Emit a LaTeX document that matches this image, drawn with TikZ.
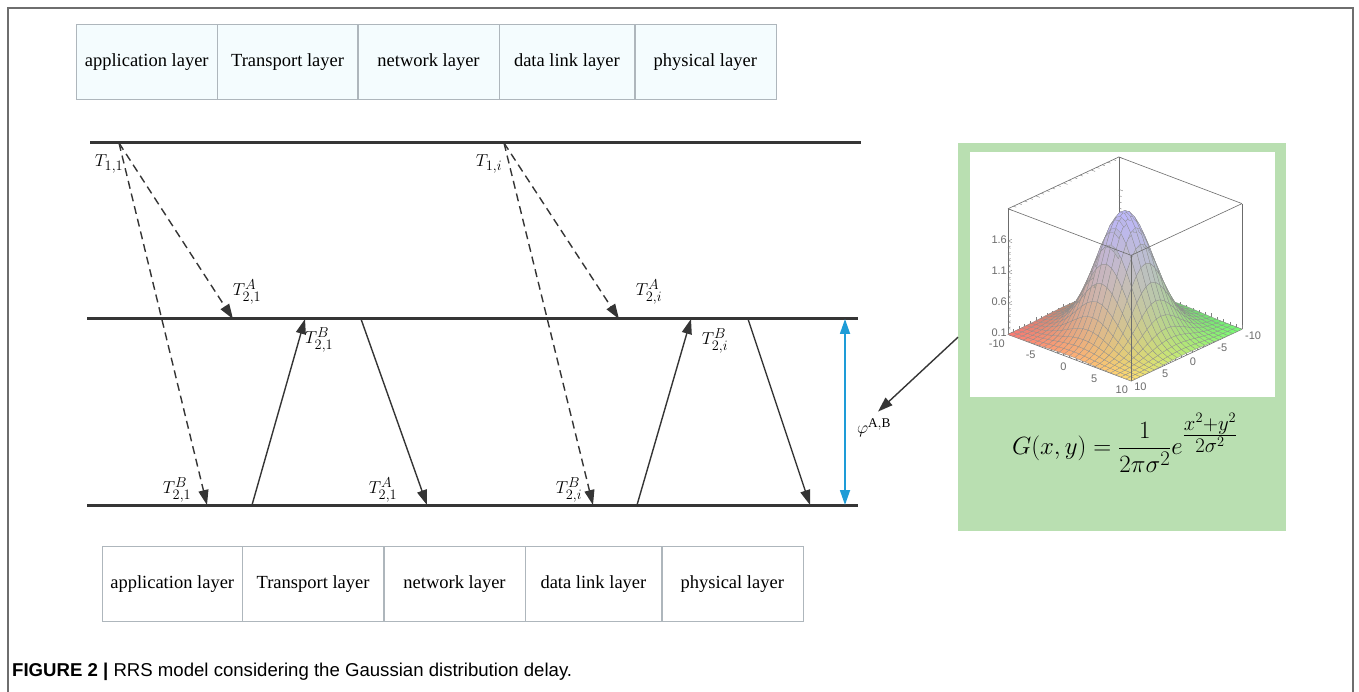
\documentclass[tikz,border=0pt]{standalone}
\usepackage{fontspec}
\usepackage{amsmath}
\setmainfont{Liberation Serif}
\setsansfont{Liberation Sans}
\usepackage{pgfplots}
\pgfplotsset{compat=1.18}
\usetikzlibrary{positioning,arrows.meta}
\definecolor{trackgray}{HTML}{353535}
\definecolor{boxgray}{HTML}{AEB6BC}
\definecolor{boxfill}{HTML}{F4FCFE}
\definecolor{phiblue}{HTML}{1E9CD7}
\definecolor{panelgreen}{HTML}{B9DFB1}
\definecolor{framegray}{HTML}{6E6E6E}
\begin{document}
\begin{tikzpicture}[x=1pt,y=-1pt,
    layer/.style={draw=boxgray,fill=boxfill,minimum width=141pt,minimum height=75pt,inner sep=0pt,font=\fontsize{18.5}{21}\selectfont},
    track/.style={draw=trackgray,line width=3pt},
    msg/.style={draw=trackgray,line width=1.4pt,-{Triangle[length=15pt,width=10pt]}},
    lost/.style={msg,dash pattern=on 8pt off 5pt},
    lbl/.style={inner sep=0pt,font=\fontsize{19}{21}\selectfont},
    boxedge/.style={gray!85!black,semithick}]
\useasboundingbox (0,0) rectangle (1359,692);
\draw[framegray,line width=1.3pt] (8,692) -- (8,8) -- (1353,8) -- (1353,692);

% sender stack
\node[layer,anchor=north west] (tapp) at (76,24) {application layer};
\node[layer,right=0pt of tapp,minimum width=140pt] (ttra) {Transport layer};
\node[layer,right=0pt of ttra] (tnet) {network layer};
\node[layer,right=0pt of tnet,minimum width=135pt] (tdat) {data link layer};
\node[layer,right=0pt of tdat] (tphy) {physical layer};

% receiver stack
\node[layer,fill=white,anchor=north west,minimum width=140pt] (bapp) at (102,546) {application layer};
\node[layer,fill=white,right=0pt of bapp] (btra) {Transport layer};
\node[layer,fill=white,right=0pt of btra] (bnet) {network layer};
\node[layer,fill=white,right=0pt of bnet,minimum width=136pt] (bdat) {data link layer};
\node[layer,fill=white,right=0pt of bdat] (bphy) {physical layer};

% time lines
\coordinate (a1) at (90,143);  \coordinate (a2) at (861,143);
\coordinate (m1) at (87,319);  \coordinate (m2) at (858,319);
\coordinate (b1) at (87,505);  \coordinate (b2) at (858,505);
\draw[track] (a1) -- (a2);
\draw[track] (m1) -- (m2);
\draw[track] (b1) -- (b2);

% first round
\coordinate (s1) at (119,143);
\coordinate (r1A) at (233,319);
\coordinate (r1B) at (207,505);
\coordinate (u1s) at (252,505); \coordinate (u1e) at (305,319);
\coordinate (d1s) at (361,319); \coordinate (d1e) at (427,505);
\draw[lost] (s1) -- (r1A);
\draw[lost] (s1) -- (r1B);
\draw[msg] (u1s) -- (u1e);
\draw[msg] (d1s) -- (d1e);
\node[lbl] (t11) at (109,164) {$T_{1,1}$};
\node[lbl] (t21A) at (247,292) {$T_{2,1}^{A}$};
\node[lbl] (t21Bm) at (319,340) {$T_{2,1}^{B}$};
\node[lbl] (t21B) at (177,490) {$T_{2,1}^{B}$};
\node[lbl] (t21Ab) at (383,490) {$T_{2,1}^{A}$};

% i-th round
\coordinate (s2) at (504,143);
\coordinate (r2A) at (619,319);
\coordinate (r2B) at (593,505);
\coordinate (u2s) at (637,505); \coordinate (u2e) at (691,319);
\coordinate (d2s) at (748,319); \coordinate (d2e) at (810,505);
\draw[lost] (s2) -- (r2A);
\draw[lost] (s2) -- (r2B);
\draw[msg] (u2s) -- (u2e);
\draw[msg] (d2s) -- (d2e);
\node[lbl] (t1i) at (489,164) {$T_{1,i}$};
\node[lbl] (t2iA) at (649,292) {$T_{2,i}^{A}$};
\node[lbl] (t2iBm) at (715,341) {$T_{2,i}^{B}$};
\node[lbl] (t2iB) at (569,490) {$T_{2,i}^{B}$};

% offset
\coordinate (p1) at (845,319); \coordinate (p2) at (845,505);
\draw[phiblue,line width=1.8pt,{Triangle[length=15pt,width=10pt]}-{Triangle[length=15pt,width=10pt]}] (p1) -- (p2);
\node[lbl] (phi) at (874,428) {$\varphi^{\mathrm{A,B}}$};

% gaussian panel
\node[fill=panelgreen,minimum width=328pt,minimum height=388pt,inner sep=0pt,anchor=north west] (gpanel) at (958,143) {};
\fill[white] (970,152) rectangle (1275,397);
\begin{axis}[at={(1125pt,-269pt)},anchor=center,scale only axis,width=234pt,height=224pt,
    view={42}{29},y dir=reverse,tick pos=left,
    xmin=-10,xmax=10,ymin=-10,ymax=10,zmin=0.1,zmax=2.12,
    xtick={-10,-5,...,10},ytick={-10,-5,...,10},ztick={0.1,0.6,1.1,1.6},
    xticklabels={-10,-5,0,5,10},yticklabels={-10,-5,0,5,10},zticklabels={0.1,0.6,1.1,1.6},
    minor tick num=4,tick style={gray,thin},axis line style={boxedge},
    ticklabel style={font=\sffamily\fontsize{11}{12}\selectfont,text=gray!85!black,inner sep=1pt},
    xticklabel style={anchor=north east,xshift=-2pt,yshift=-4pt},
    yticklabel style={anchor=north west,xshift=2pt,yshift=-1pt},
    zticklabel style={yshift=2pt}]
\addplot3[surf,samples=25,domain=-10:10,y domain=-10:10,z buffer=sort,
    faceted color=black!45,line width=0.25pt,
    mesh/color input=explicit mathparse,
    point meta={symbolic={
      (1-0.0275*(10-y))*(1-exp(-(x*x+y*y)/24))+0.74*exp(-(x*x+y*y)/24),
      (0.47+0.02*(x+10)+0.006*(10-y))*(1-exp(-(x*x+y*y)/24))+0.72*exp(-(x*x+y*y)/24),
      0.45*(1-exp(-(x*x+y*y)/24))+0.99*exp(-(x*x+y*y)/24)}}]
    {0.1+1.95*exp(-(x^2+y^2)/24)};
% front edges of the box
\draw[boxedge] (axis cs:10,10,0.1) -- (axis cs:10,10,2.12);
\draw[boxedge] (axis cs:-10,10,2.12) -- (axis cs:10,10,2.12) -- (axis cs:10,-10,2.12);
\end{axis}
\node[font=\fontsize{28}{32}\selectfont] (gform) at (1125,443) {$G(x,y)=\dfrac{1}{2\pi\sigma^2}e^{\tfrac{x^2+y^2}{2\sigma^2}}$};
\draw[msg] (gpanel.west) -- ([xshift=4pt,yshift=7pt]phi.north);

\node[anchor=west,inner sep=0pt,font=\sffamily\fontsize{18.6}{21}\selectfont] (cap) at (12,672) {\textbf{FIGURE 2 |} RRS model considering the Gaussian distribution delay.};
\end{tikzpicture}
\end{document}
